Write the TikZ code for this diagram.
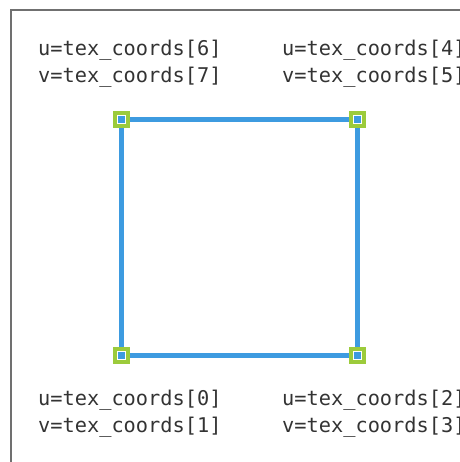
\documentclass[tikz,border=0pt]{standalone}
\usepackage{fontspec}
\setmonofont{DejaVu Sans Mono}
\definecolor{edgeblue}{HTML}{3D9BE0}
\definecolor{cornergreen}{HTML}{9CCB3B}
\definecolor{framegray}{HTML}{707070}
\definecolor{textgray}{HTML}{333333}
\begin{document}
\begin{tikzpicture}[x=1pt,y=-1pt,
  corner/.style={rectangle, draw=cornergreen, line width=3.8pt, fill=white,
    minimum size=13pt, inner sep=0pt,
    path picture={\fill[edgeblue] ([xshift=-3.3pt,yshift=-3.3pt]path picture bounding box.center) rectangle ([xshift=3.3pt,yshift=3.3pt]path picture bounding box.center);}},
  edge/.style={draw=edgeblue, line width=5pt},
  label/.style={anchor=base west, inner sep=0pt, align=left, text=textgray,
    font=\ttfamily\fontsize{20.3}{27}\selectfont}]
\useasboundingbox (0,0) rectangle (459,462);
\draw[framegray, line width=2pt] (11,463) -- (11,10) -- (460,10);
\node[corner] (tl) at (121.5,119.5) {};
\node[corner] (tr) at (357.5,119.5) {};
\node[corner] (bl) at (121.5,355.5) {};
\node[corner] (br) at (357.5,355.5) {};
\draw[edge] (tl) -- (tr);
\draw[edge] (tr) -- (br);
\draw[edge] (br) -- (bl);
\draw[edge] (bl) -- (tl);
\node[label] (t6) at (38,83) {u=tex\_coords[6]\\v=tex\_coords[7]};
\node[label] (t4) at (282,83) {u=tex\_coords[4]\\v=tex\_coords[5]};
\node[label] (t0) at (38,432) {u=tex\_coords[0]\\v=tex\_coords[1]};
\node[label] (t2) at (282,432) {u=tex\_coords[2]\\v=tex\_coords[3]};
\end{tikzpicture}
\end{document}
